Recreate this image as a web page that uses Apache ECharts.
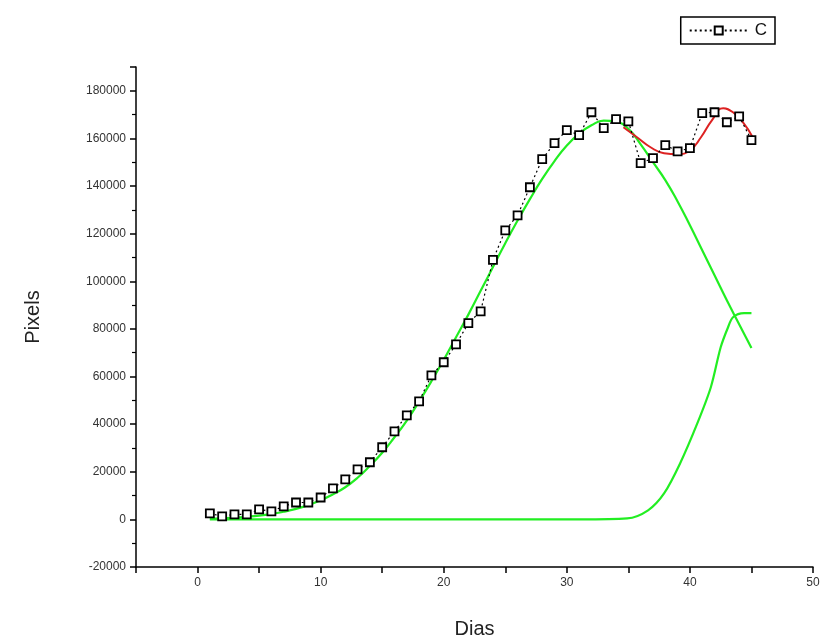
<!DOCTYPE html>
<html>
<head>
<meta charset="utf-8">
<script src="https://cdn.jsdelivr.net/npm/echarts@6/dist/echarts.min.js"></script>
<style>html,body{margin:0;padding:0;background:#fff}#c{width:823px;height:643px}</style>
</head>
<body>
<div id="c"></div>
<script>
// Measured data "C"
const days = [1,2,3,4,5,6,7,8,9,10,11,12,13,14,15,16,17,18,19,20,21,22,23,24,25,26,27,28,29,30,31,32,33,34,35,36,37,38,39,40,41,42,43,44,45];
const pixels = [2500,1300,2100,2100,4200,3400,5500,7100,7100,9200,13000,16800,21000,24000,30300,37000,43700,49600,60500,66000,73500,82400,87400,109000,121400,127700,139500,151300,158000,163500,161400,171000,164300,168100,167200,149600,151700,157200,154600,155900,170600,171000,166800,169300,159300];

// Green fit curve 1
const fit1X = [1,2,3,4,5,6,7,8,9,10,11,12,13,14,15,16,17,18,19,20,21,22,23,24,25,26,27,28,29,30,31,32,33,34,35,36,37,38,39,40,41,42,43,44,45];
const fit1Y = [300,400,700,1100,1600,2300,3200,4400,6000,8000,10500,13500,17500,22500,28000,34500,41500,49500,58000,67000,76500,86000,96000,106000,116000,125500,134500,143000,150500,157000,162000,165500,167500,167000,164000,157500,150000,142500,133500,123500,113000,102500,92000,82000,72000];

// Green fit curve 2
const fit2X = [1,5,10,15,20,25,30,31.1,34.9,36.6,37.9,39.2,40.6,41.7,42.5,43.1,43.5,44.4,45];
const fit2Y = [0,0,0,0,0,0,0,0,400,3800,10900,23500,40300,55500,72300,80700,84900,86600,86600];

// Red fit curve
const redX = [34.6,35.7,36.8,37.9,39.0,40.0,40.9,41.8,42.7,43.5,44.3,45.1];
const redY = [164700,160500,156300,153800,153400,155000,160500,167700,172700,171000,166800,160500];

const zip = (a,b) => a.map((v,i)=>[v,b[i]]);

const chart = echarts.init(document.getElementById('c'), null, {renderer:'canvas'});
const font = 'Liberation Sans, Arial, sans-serif';
chart.setOption({
  animation:false,
  backgroundColor:'#fff',
  grid:{left:136,right:10,top:67,bottom:76,outerBoundsMode:'none',containLabel:false},
  legend:{
    data:['C'], right:48, top:17,
    itemWidth:58, itemHeight:10, itemGap:4,
    padding:[5,8,5,8],
    borderColor:'#000', borderWidth:1.5, borderRadius:0,
    textStyle:{fontFamily:font,fontSize:17,color:'#111',padding:[0,0,0,2]}
  },
  xAxis:{
    type:'value', min:-5, max:50, interval:5,
    name:'Dias', nameLocation:'middle', nameGap:52,
    nameTextStyle:{fontFamily:font,fontSize:20,color:'#222'},
    axisLine:{show:true,onZero:false,lineStyle:{color:'#000',width:1.5}},
    axisTick:{show:true,length:6,lineStyle:{color:'#000',width:1.5}},
    axisLabel:{fontFamily:font,fontSize:12,color:'#333',margin:10,
      formatter:v=> (v%10===0 ? String(v) : '')},
    splitLine:{show:false}
  },
  yAxis:{
    type:'value', min:-20000, max:190000, interval:20000,
    name:'Pixels', nameLocation:'middle', nameGap:93, nameRotate:90,
    nameTextStyle:{fontFamily:font,fontSize:20,color:'#222'},
    axisLine:{show:true,onZero:false,lineStyle:{color:'#000',width:1.5}},
    axisTick:{show:true,length:6,lineStyle:{color:'#000',width:1.5}},
    minorTick:{show:true,splitNumber:2,length:4,lineStyle:{color:'#000',width:1.2}},
    axisLabel:{fontFamily:font,fontSize:12,color:'#333',margin:10,showMaxLabel:false,
      formatter:v=>String(v)},
    splitLine:{show:false}
  },
  series:[
    {name:'fit2',type:'line',data:zip(fit2X,fit2Y),smooth:0.3,symbol:'none',
     lineStyle:{color:'#22ee22',width:2.2},z:2},
    {name:'fit1',type:'line',data:zip(fit1X,fit1Y),smooth:true,symbol:'none',
     lineStyle:{color:'#22ee22',width:2.2},z:2},
    {name:'red',type:'line',data:zip(redX,redY),smooth:true,symbol:'none',
     lineStyle:{color:'#dd2222',width:2},z:3},
    {name:'C',type:'line',data:zip(days,pixels),symbol:'rect',symbolSize:8,
     lineStyle:{color:'#000',width:1.2,type:[2,3]},
     itemStyle:{color:'#fff',borderColor:'#000',borderWidth:1.8},z:4}
  ]
});
</script>
</body>
</html>
